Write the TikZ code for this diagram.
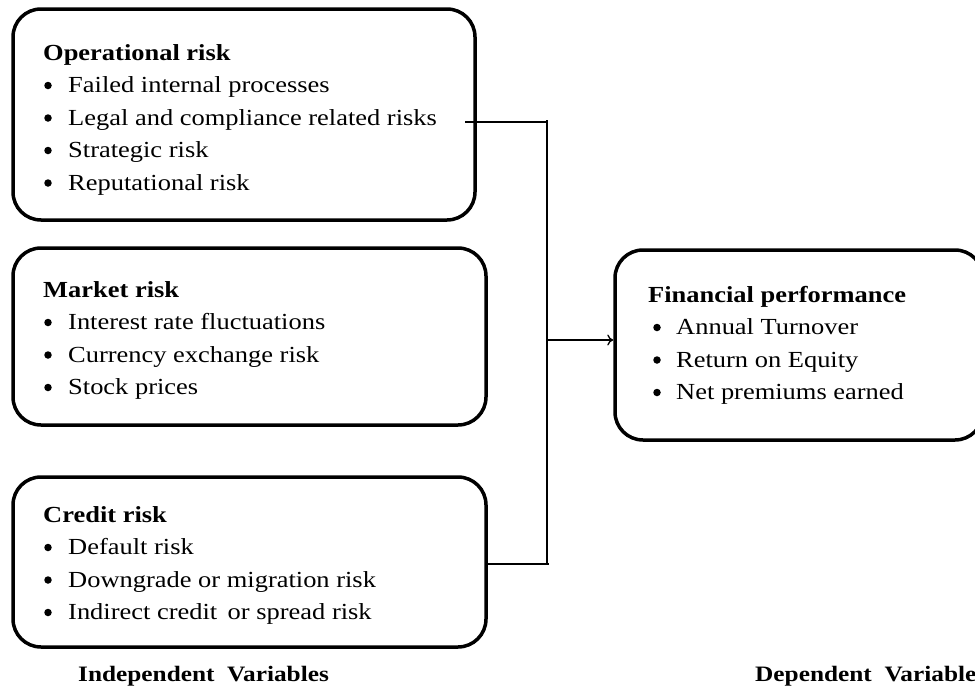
\documentclass[tikz,border=0pt]{standalone}
\usepackage{fontspec}
\setmainfont{Liberation Serif}[FakeStretch=1.15]
\usetikzlibrary{arrows.meta}
\begin{document}
\begin{tikzpicture}[x=1pt,y=-1pt,
  box/.style={draw=black, line width=3.5pt, rounded corners=28pt, inner sep=0pt, fill=white},
  txt/.style={anchor=base west, inner sep=0pt, font=\fontsize{23}{28}\selectfont, text=black},
  head/.style={anchor=base west, inner sep=0pt, font=\fontsize{23}{28}\selectfont\bfseries, text=black},
  lbl/.style={anchor=base west, inner sep=0pt, font=\fontsize{22}{28}\selectfont\bfseries, text=black},
  bul/.style={circle, fill=black, inner sep=0pt, minimum size=7.5pt},
  conn/.style={draw=black, line width=1.3pt}]
\useasboundingbox (0,0) rectangle (975,688);

% boxes
\node[box, minimum width=462pt, minimum height=211pt] (op) at (244,114.5) {};
\node[box, minimum width=473pt, minimum height=177pt] (mk) at (249.5,336.5) {};
\node[box, minimum width=473pt, minimum height=170pt] (cr) at (249.5,562) {};
\node[box, minimum width=368pt, minimum height=190pt] (fp) at (799,345) {};

% operational risk
\node[head] (op0) at (43,60) {Operational risk};
\node[bul] (ob1) at (48,85.5) {};  \node[txt] (op1) at (68,92.5) {Failed internal processes};
\node[bul] (ob2) at (48,118) {};   \node[txt] (op2) at (68,125) {Legal and compliance related risks};
\node[bul] (ob3) at (48,150.5) {}; \node[txt] (op3) at (68,157.5) {Strategic risk};
\node[bul] (ob4) at (48,183) {};   \node[txt] (op4) at (68,190) {Reputational risk};

% market risk
\node[head] (mk0) at (43,297) {Market risk};
\node[bul] (mb1) at (48,322.5) {}; \node[txt] (mk1) at (68,329.5) {Interest rate fluctuations};
\node[bul] (mb2) at (48,355) {};   \node[txt] (mk2) at (68,362) {Currency exchange risk};
\node[bul] (mb3) at (48,387.5) {}; \node[txt] (mk3) at (68,394.5) {Stock prices};

% credit risk
\node[head] (cr0) at (43,522) {Credit risk};
\node[bul] (cb1) at (48,547.5) {}; \node[txt] (cr1) at (68,554.5) {Default risk};
\node[bul] (cb2) at (48,580) {};   \node[txt] (cr2) at (68,587) {Downgrade or migration risk};
\node[bul] (cb3) at (48,612.5) {}; \node[txt] (cr3) at (68,619.5) {Indirect credit\, or spread risk};

% financial performance
\node[head] (fp0) at (648,302) {Financial performance};
\node[bul] (fb1) at (657,327.5) {}; \node[txt] (fp1) at (676,334.5) {Annual Turnover};
\node[bul] (fb2) at (657,360) {};   \node[txt] (fp2) at (676,367) {Return on Equity};
\node[bul] (fb3) at (657,392.5) {}; \node[txt] (fp3) at (676,399.5) {Net premiums earned};

% bottom labels
\node[lbl] (iv) at (78,681) {Independent\ \ Variables};
\node[lbl] (dv) at (755,681) {Dependent\ \ Variables};

% connectors
\coordinate (s1) at (465,122);
\coordinate (j1) at (547,122);
\coordinate (j2) at (547,340);
\coordinate (j3) at (547,564);
\draw[conn] (s1) -- (j1);
\draw[conn] (547,120) -- (547,565);
\draw[conn] (cr.east |- j3) -- (549,564);
\draw[conn, -{To[length=6pt,width=11pt]}] (j2) -- (fp.west |- j2);
\end{tikzpicture}
\end{document}
